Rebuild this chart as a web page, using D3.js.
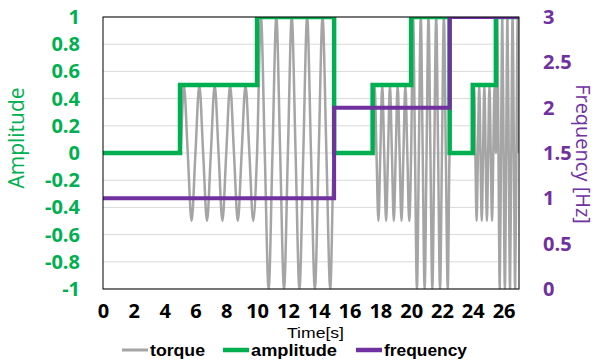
<!DOCTYPE html>
<html>
<head>
<meta charset="utf-8">
<script src="https://cdn.jsdelivr.net/npm/d3@7"></script>
<style>
  body { margin: 0; background: #fff; }
  svg { display: block; }
  text { font-family: "Open Sans", "Liberation Sans", sans-serif; }
</style>
</head>
<body>
<svg id="chart" width="598" height="362"></svg>
<script>
// Axis tick values
const timeTicks = [0, 2, 4, 6, 8, 10, 12, 14, 16, 18, 20, 22, 24, 26];
const ampTicks = [-1, -0.8, -0.6, -0.4, -0.2, 0, 0.2, 0.4, 0.6, 0.8, 1];
const freqTicks = [0, 0.5, 1, 1.5, 2, 2.5, 3];

// Commanded amplitude (step changes) [time s, amplitude]
const amplitudeSteps = [
  [0, 0], [5, 0.5], [10, 1], [15, 0], [17.5, 0.5], [20, 1],
  [22.5, 0], [24, 0.5], [25.5, 1], [27, 1]
];

// Commanded frequency (step changes) [time s, Hz]
const frequencySteps = [[0, 1], [15, 2], [22.5, 3], [27, 3]];

// Measured torque: crests, troughs and zero crossings [time s, value]
const torque = [
  [0, 0], [5, 0],
  [5.25, 0.5], [5.5, 0], [5.75, -0.5], [6, 0],
  [6.25, 0.5], [6.5, 0], [6.75, -0.5], [7, 0],
  [7.25, 0.5], [7.5, 0], [7.75, -0.5], [8, 0],
  [8.25, 0.5], [8.5, 0], [8.75, -0.5], [9, 0],
  [9.25, 0.5], [9.5, 0], [9.75, -0.5], [10, 0],
  [10.25, 1], [10.5, 0], [10.75, -1], [11, 0],
  [11.25, 1], [11.5, 0], [11.75, -1], [12, 0],
  [12.25, 1], [12.5, 0], [12.75, -1], [13, 0],
  [13.25, 1], [13.5, 0], [13.75, -1], [14, 0],
  [14.25, 1], [14.5, 0], [14.75, -1], [15, 0],
  [17.5, 0],
  [17.625, 0.5], [17.75, 0], [17.875, -0.5], [18, 0],
  [18.125, 0.5], [18.25, 0], [18.375, -0.5], [18.5, 0],
  [18.625, 0.5], [18.75, 0], [18.875, -0.5], [19, 0],
  [19.125, 0.5], [19.25, 0], [19.375, -0.5], [19.5, 0],
  [19.625, 0.5], [19.75, 0], [19.875, -0.5], [20, 0],
  [20.125, 1], [20.25, 0], [20.375, -1], [20.5, 0],
  [20.625, 1], [20.75, 0], [20.875, -1], [21, 0],
  [21.125, 1], [21.25, 0], [21.375, -1], [21.5, 0],
  [21.625, 1], [21.75, 0], [21.875, -1], [22, 0],
  [22.125, 1], [22.25, 0], [22.375, -1], [22.5, 0],
  [24, 0],
  [24.083, 0.5], [24.167, 0], [24.25, -0.5], [24.333, 0],
  [24.417, 0.5], [24.5, 0], [24.583, -0.5], [24.667, 0],
  [24.75, 0.5], [24.833, 0], [24.917, -0.5], [25, 0],
  [25.083, 0.5], [25.167, 0], [25.25, -0.5], [25.333, 0],
  [25.417, 0.5], [25.5, 0],
  [25.583, 1], [25.667, 0], [25.75, -1], [25.833, 0],
  [25.917, 1], [26, 0], [26.083, -1], [26.167, 0],
  [26.25, 1], [26.333, 0], [26.417, -1], [26.5, 0],
  [26.583, 1], [26.667, 0], [26.75, -1], [26.833, 0],
  [26.917, 1], [27, 0]
];

const colors = { torque: "#A5A5A5", amplitude: "#00B050", frequency: "#7030A0" };

const svg = d3.select("#chart");
const plot = { left: 103, right: 519, top: 17, bottom: 289 };

const x = d3.scaleLinear().domain([0, 27]).range([plot.left, plot.right]);
const yAmp = d3.scaleLinear().domain([-1, 1]).range([plot.bottom, plot.top]);
const yFreq = d3.scaleLinear().domain([0, 3]).range([plot.bottom, plot.top]);

svg.append("defs").append("clipPath").attr("id", "plot-clip")
  .append("rect")
  .attr("x", plot.left).attr("y", plot.top)
  .attr("width", plot.right - plot.left).attr("height", plot.bottom - plot.top);

// Horizontal gridlines
svg.append("g").selectAll("line").data(ampTicks).join("line")
  .attr("x1", plot.left).attr("x2", plot.right)
  .attr("y1", d => yAmp(d)).attr("y2", d => yAmp(d))
  .attr("stroke", "#D9D9D9").attr("stroke-width", 1);

const marks = svg.append("g").attr("clip-path", "url(#plot-clip)");

marks.append("path").datum(torque)
  .attr("fill", "none").attr("stroke", colors.torque).attr("stroke-width", 2.5)
  .attr("stroke-linejoin", "round")
  .attr("d", d3.line().x(d => x(d[0])).y(d => yAmp(d[1])).curve(d3.curveMonotoneX));

marks.append("path").datum(amplitudeSteps)
  .attr("fill", "none").attr("stroke", colors.amplitude).attr("stroke-width", 4.5)
  .attr("d", d3.line().x(d => x(d[0])).y(d => yAmp(d[1])).curve(d3.curveStepAfter));

marks.append("path").datum(frequencySteps)
  .attr("fill", "none").attr("stroke", colors.frequency).attr("stroke-width", 4)
  .attr("d", d3.line().x(d => x(d[0])).y(d => yFreq(d[1])).curve(d3.curveStepAfter));

// Plot border
svg.append("rect")
  .attr("x", plot.left).attr("y", plot.top)
  .attr("width", plot.right - plot.left).attr("height", plot.bottom - plot.top)
  .attr("fill", "none").attr("stroke", "#000").attr("stroke-width", 1);

// Axes
const leftAxis = svg.append("g").attr("transform", `translate(${plot.left},0)`)
  .call(d3.axisLeft(yAmp).tickValues(ampTicks).tickSize(0).tickPadding(23)
    .tickFormat(d => String(d)));
const rightAxis = svg.append("g").attr("transform", `translate(${plot.right},0)`)
  .call(d3.axisRight(yFreq).tickValues(freqTicks).tickSize(0).tickPadding(24)
    .tickFormat(d => String(d)));
const bottomAxis = svg.append("g").attr("transform", `translate(0,${plot.bottom})`)
  .call(d3.axisBottom(x).tickValues(timeTicks).tickSize(0).tickPadding(15)
    .tickFormat(d => String(d)));

[leftAxis, rightAxis, bottomAxis].forEach(g => g.select(".domain").remove());
leftAxis.selectAll("text").attr("fill", colors.amplitude);
rightAxis.selectAll("text").attr("fill", colors.frequency);
bottomAxis.selectAll("text").attr("fill", "#000");
svg.selectAll(".tick text")
  .style("font-family", "'Open Sans', sans-serif")
  .style("font-size", "20px").style("font-weight", "bold");

// Axis titles
svg.append("text")
  .attr("transform", "translate(16,138) rotate(-90)")
  .attr("text-anchor", "middle").attr("dominant-baseline", "central")
  .attr("fill", colors.amplitude).style("font-size", "21px")
  .text("Amplitude");

svg.append("text")
  .attr("transform", "translate(583,154) rotate(90)")
  .attr("text-anchor", "middle").attr("dominant-baseline", "central")
  .attr("fill", colors.frequency).style("font-size", "20px")
  .text("Frequency [Hz]");

svg.append("text")
  .attr("x", 287).attr("y", 337.5)
  .attr("textLength", 57).attr("lengthAdjust", "spacingAndGlyphs")
  .attr("fill", "#000")
  .style("font-family", "'Liberation Sans', sans-serif").style("font-size", "14px")
  .text("Time[s]");

// Legend
const legendItems = [
  { name: "torque", color: colors.torque, width: 3, x: 122, len: 55 },
  { name: "amplitude", color: colors.amplitude, width: 4.5, x: 223, len: 86 },
  { name: "frequency", color: colors.frequency, width: 4.5, x: 356, len: 83 }
];
const legend = svg.append("g");
legendItems.forEach(item => {
  legend.append("line")
    .attr("x1", item.x).attr("x2", item.x + 26)
    .attr("y1", 350).attr("y2", 350)
    .attr("stroke", item.color).attr("stroke-width", item.width);
  legend.append("text")
    .attr("x", item.x + 28).attr("y", 355.5)
    .attr("textLength", item.len).attr("lengthAdjust", "spacingAndGlyphs")
    .attr("fill", "#000")
    .style("font-family", "'Liberation Sans', sans-serif")
    .style("font-size", "16px").style("font-weight", "bold")
    .text(item.name);
});
</script>
</body>
</html>
